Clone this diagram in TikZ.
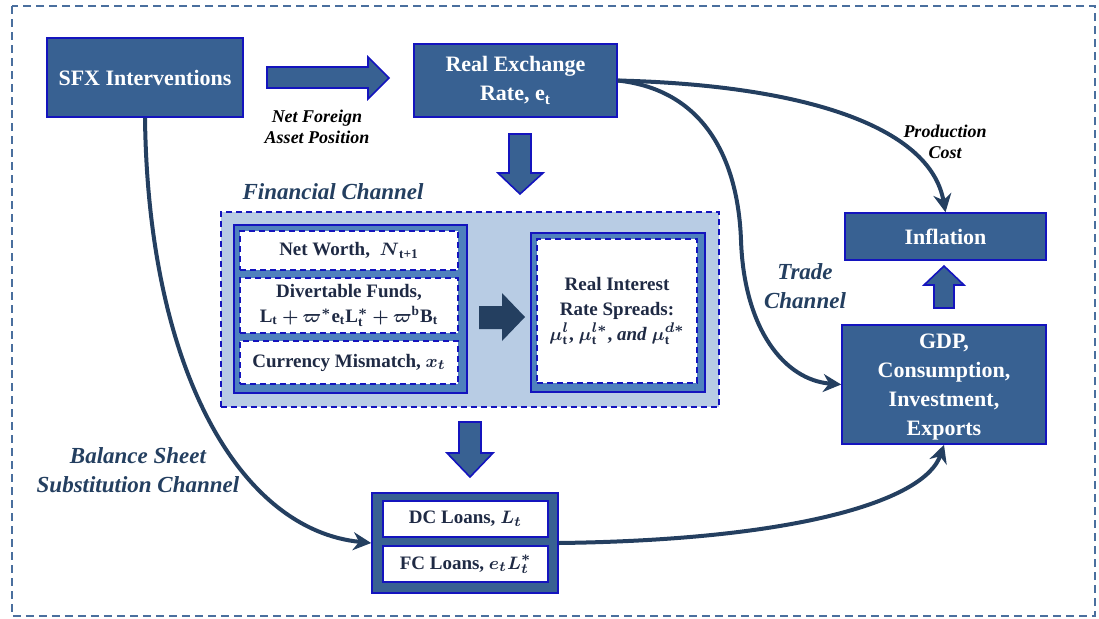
\documentclass[tikz,border=0pt]{standalone}
\usepackage{fontspec}
\setmainfont{Liberation Serif}
\usepackage{amsmath}
\usetikzlibrary{arrows.meta}
\definecolor{boxblue}{RGB}{56,97,146}
\definecolor{edgeblue}{RGB}{20,20,190}
\definecolor{lightregion}{RGB}{184,204,228}
\definecolor{midblue}{RGB}{79,129,189}
\definecolor{darknavy}{RGB}{36,63,96}
\definecolor{textnavy}{RGB}{31,42,68}
\definecolor{framegray}{RGB}{74,111,158}

\begin{document}
\begin{tikzpicture}[x=0.5pt,y=-0.5pt,
    every node/.style={inner sep=0pt},
    mainbox/.style={draw=edgeblue,fill=boxblue,line width=0.8pt,text=white,align=center,
      font=\fontsize{11}{14.5}\selectfont\bfseries},
    holder/.style={draw=edgeblue,fill=midblue,line width=0.8pt},
    loanholder/.style={draw=edgeblue,fill=boxblue,line width=0.8pt},
    region/.style={draw=edgeblue,fill=lightregion,line width=0.8pt,dash pattern=on 3pt off 2pt},
    itembox/.style={draw=edgeblue,fill=white,line width=0.8pt,dash pattern=on 3pt off 2pt,
      text=textnavy,align=center,font=\fontsize{9.5}{12.5}\selectfont\bfseries},
    loanbox/.style={draw=edgeblue,fill=white,line width=0.8pt,text=textnavy,align=center,
      font=\fontsize{9.5}{12.5}\selectfont\bfseries},
    chanlabel/.style={text=darknavy,align=center,font=\fontsize{11.5}{14.5}\selectfont\bfseries\itshape},
    notelabel/.style={text=black,align=center,font=\fontsize{9}{10.5}\selectfont\bfseries\itshape},
    blockarrow/.style={draw=edgeblue,fill=boxblue,line width=0.8pt,line join=miter},
    connector/.style={draw=darknavy,line width=2pt,-{Stealth[length=9pt,width=9pt]}}]
  \useasboundingbox (0,0) rectangle (1099,618);
  \draw [framegray,line width=1pt,dash pattern=on 4pt off 2.5pt] (12,6) rectangle (1095,616);

  \node [mainbox,minimum width=98pt,minimum height=39.5pt] (sfx) at (145,77.5) {SFX Interventions};
  \node [mainbox,minimum width=101.5pt,minimum height=36.5pt] (rer) at (515.5,80.5) {Real Exchange\\Rate, e\textsubscript{t}};
  \node [mainbox,minimum width=100.5pt,minimum height=23.5pt] (infl) at (945.5,236.5) {Inflation};
  \node [mainbox,minimum width=102pt,minimum height=59.5pt,text depth=-4pt] (gdp) at (944,384.5) {GDP,\\Consumption,\\Investment,\\Exports};

  \node [region,minimum width=249pt,minimum height=97.5pt] (fin) at (470,309.5) {};
  \node [holder,minimum width=116.5pt,minimum height=84pt] (finleft) at (350.5,309) {};
  \node [itembox,minimum width=109pt,minimum height=19.5pt] (worth) at (349,250.5) {Net Worth,~ $\boldsymbol{N}_{\text{t+1}}$};
  \node [itembox,minimum width=109pt,minimum height=27.5pt] (funds) at (349,305.5) {Divertable Funds,\\$\text{L}_{\text{t}}\boldsymbol{+}\boldsymbol{\varpi}^{\boldsymbol{*}}\text{e}_{\text{t}}\text{L}^{\boldsymbol{*}}_{\text{t}}\boldsymbol{+}\boldsymbol{\varpi}^{\text{b}}\text{B}_{\text{t}}$};
  \node [itembox,minimum width=109pt,minimum height=21.5pt] (mismatch) at (349,362.5) {Currency Mismatch, $\boldsymbol{x_t}$};
  \node [holder,minimum width=87pt,minimum height=79.5pt] (finright) at (618,312.5) {};
  \node [itembox,minimum width=80pt,minimum height=72pt] (spreads) at (617,311) {Real Interest\\Rate Spreads:\\$\boldsymbol{\mu}^{\boldsymbol{l}}_{\text{t}}$, $\boldsymbol{\mu}^{\boldsymbol{l*}}_{\text{t}}$, \textit{and} $\boldsymbol{\mu}^{\boldsymbol{d*}}_{\text{t}}$};

  \node [loanholder,minimum width=93pt,minimum height=50pt] (loans) at (465,543) {};
  \node [loanbox,minimum width=82.5pt,minimum height=18pt] (dc) at (465.5,519) {DC Loans, $\boldsymbol{L_t}$};
  \node [loanbox,minimum width=82.5pt,minimum height=18pt] (fc) at (465.5,564) {FC Loans, $\boldsymbol{e_tL_t^{*}}$};

  \node [chanlabel] (finlabel) at (333,192) {Financial Channel};
  \node [chanlabel] (tradelabel) at (805,286) {Trade\\Channel};
  \node [chanlabel] (bslabel) at (138,470) {Balance Sheet\\Substitution Channel};
  \node [notelabel] (nfalabel) at (317,127) {Net Foreign\\Asset Position};
  \node [notelabel] (costlabel) at (945,142) {Production\\Cost};

  \filldraw [blockarrow] (267,67) -- (368,67) -- (368,57) -- (389,78) -- (368,99) -- (368,88) -- (267,88) -- cycle;
  \filldraw [blockarrow] (509,134) -- (531,134) -- (531,173) -- (543,173) -- (520,194) -- (498,173) -- (509,173) -- cycle;
  \filldraw [blockarrow] (459,422) -- (481,422) -- (481,453) -- (493,453) -- (470,477) -- (447,453) -- (459,453) -- cycle;
  \filldraw [blockarrow] (934,308) -- (954,308) -- (954,285) -- (964,285) -- (944,266) -- (924,285) -- (934,285) -- cycle;
  \fill [darknavy] (479,306) -- (502,306) -- (502,293) -- (525,317) -- (502,341) -- (502,329) -- (479,329) -- cycle;

  \draw [connector] (sfx.south) .. controls (148,370) and (240,530) .. (loans.west);
  \draw [connector] (rer.east) .. controls (800,85) and (930,125) .. (infl.north);
  \draw [connector] (rer.east) .. controls (705,90) and (738,160) .. (741,240) .. controls (744,330) and (785,380) .. (gdp.west);
  \draw [connector] (loans.east) .. controls (800,540) and (925,500) .. (gdp.south);
\end{tikzpicture}
\end{document}
